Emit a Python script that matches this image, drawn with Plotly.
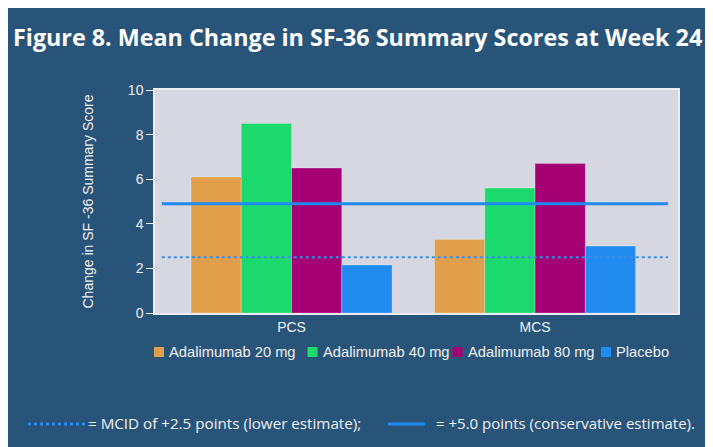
import plotly.graph_objects as go

# data
categorias = ["PCS", "MCS"]
series = ["Adalimumab 20 mg", "Adalimumab 40 mg", "Adalimumab 80 mg", "Placebo"]
ada20 = [6.1, 3.3]
ada40 = [8.5, 5.6]
ada80 = [6.5, 6.7]
placebo = [2.15, 3.0]
mcid_inferior = 2.5       # linha pontilhada
mcid_conservador = 4.9    # linha continua
texto_mcid = ["= MCID of +2.5 points (lower estimate);",
              "= +5.0 points (conservative estimate)."]

cores = ["#E29F4B", "#1BD96C", "#A50074", "#218BEF"]
fundo = "#285479"
W, H = 713, 447
OFF = 8  # margem do body da pagina
# area do grafico em coordenadas da pagina: x 155..678, y 90..313
ML, MT = 155 - OFF, 90 - OFF
MR, MB = W - (678 - OFF), H - (313 - OFF)

def px(x):
    return (x - OFF - ML) / (W - ML - MR)

def py(y):
    return (H - MB - (y - OFF)) / (H - MT - MB)

fig = go.Figure()
for nome, vals, cor in zip(series, [ada20, ada40, ada80, placebo], cores):
    fig.add_trace(go.Bar(x=categorias, y=vals, name=nome,
                         marker=dict(color=cor, line=dict(width=1, color="rgba(255,255,255,0.25)")),
                         showlegend=False))

formas = []
# linhas de referencia
formas.append(dict(type="line", xref="paper", yref="y", x0=0.013, x1=0.981, y0=mcid_inferior, y1=mcid_inferior,
                   line=dict(color="#3A8EE6", width=2, dash="dot")))
formas.append(dict(type="line", xref="paper", yref="y", x0=0.013, x1=0.981, y0=mcid_conservador, y1=mcid_conservador,
                   line=dict(color="#1F8AEF", width=3)))

anot = []
# legenda manual
leg_x = [154, 307.5, 452.5, 601]
for nome, cor, x in zip(series, cores, leg_x):
    formas.append(dict(type="rect", xref="paper", yref="paper", x0=px(x), x1=px(x + 10), y0=py(357), y1=py(347),
                       fillcolor=cor, line_width=0))
    anot.append(dict(text=nome, xref="paper", yref="paper", x=px(x + 13), y=py(352), xanchor="left", yanchor="middle",
                     showarrow=False, font=dict(family="Liberation Sans, Arial", size=14.7, color="#F0F0F0")))

# chave das linhas MCID
formas.append(dict(type="line", xref="paper", yref="paper", x0=px(28), x1=px(86), y0=py(424), y1=py(424),
                   line=dict(color="#2C8BEF", width=3, dash="dot")))
formas.append(dict(type="line", xref="paper", yref="paper", x0=px(388), x1=px(425), y0=py(424), y1=py(424),
                   line=dict(color="#1F8AEF", width=3)))
anot.append(dict(text=texto_mcid[0], xref="paper", yref="paper", x=px(86), y=py(423), xanchor="left", yanchor="middle",
                 showarrow=False, font=dict(family="Open Sans", size=15.2, color="#F0F0F0")))
anot.append(dict(text=texto_mcid[1], xref="paper", yref="paper", x=px(434), y=py(423), xanchor="left", yanchor="middle",
                 showarrow=False, font=dict(family="Open Sans", size=15, color="#F0F0F0")))

fig.update_layout(
    width=W, height=H,
    margin=dict(l=ML, r=MR, t=MT, b=MB),
    paper_bgcolor=fundo, plot_bgcolor="#D7D7E1",
    barmode="group", bargap=0.1745, bargroupgap=0,
    title=dict(text="<b>Figure 8. Mean Change in SF-36 Summary Scores at Week 24</b>",
               xref="container", yref="container", x=(13 - OFF) / W, xanchor="left",
               y=1 - (38 - OFF) / H, yanchor="middle",
               font=dict(family="Open Sans", size=23.3, color="white")),
    shapes=formas, annotations=anot,
    font=dict(family="Liberation Sans, Arial", color="#F0F0F0"),
)
fig.update_xaxes(range=[-0.5606, 1.587], showline=True, mirror=True, linecolor="#ECECF2", linewidth=1.5,
                 ticks="", automargin=False, tickfont=dict(size=14, color="#F0F0F0"))
fig.update_yaxes(range=[0, 10], dtick=2, showgrid=False, zeroline=False, showline=True, mirror=True,
                 linecolor="#ECECF2", linewidth=1.5, ticks="outside", ticklen=7, tickcolor="#ECECF2",
                 automargin=False, tickfont=dict(size=14, color="#F0F0F0"),
                 title=dict(text="Change in SF -36 Summary Score", standoff=31, font=dict(size=14, color="#F0F0F0")))

fig.write_html("out.html")
